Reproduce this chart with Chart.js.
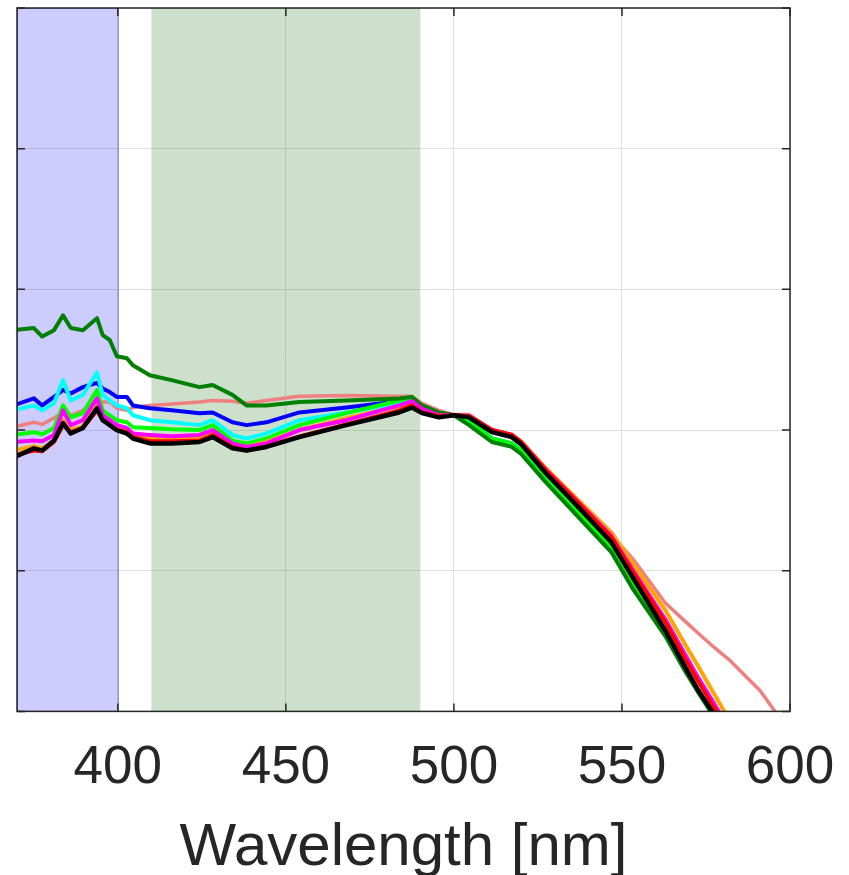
<!DOCTYPE html>
<html lang="en">
<head>
<meta charset="UTF-8">
<title>Spectra vs wavelength</title>
<script src="https://cdn.jsdelivr.net/npm/chart.js"></script>
<style>
    html, body { margin: 0; padding: 0; background: #fff; }
    #wrap { width: 849px; height: 875px; }
</style>
</head>
<body>
<div id="wrap"><canvas id="myChart" width="849" height="875"></canvas></div>
<script>
// Wavelength samples [nm]
const lam = [369, 375, 377.5, 381, 383.7, 386, 389.6, 393.8, 395.5, 397.6, 399.7, 402.7, 404.5, 409.5,
    416, 424.3, 428.2, 434.1, 438.3, 444.2, 454, 468, 483.7, 487.5, 490.5, 495.5, 500,
    504.5, 511.3, 517.2, 520, 527.3, 537.1, 546.9, 553.4, 562.9, 568.8, 572.7, 577.2, 582,
    586, 591, 596];

// Spectra (normalised units)
const sBlack = [0.361, 0.374, 0.371, 0.385, 0.410, 0.395, 0.403, 0.431, 0.414, 0.407, 0.400, 0.395, 0.388, 0.381,
    0.381, 0.383, 0.390, 0.374, 0.371, 0.376, 0.390, 0.407, 0.425, 0.432, 0.424, 0.418, 0.421,
    0.418, 0.397, 0.390, 0.380, 0.339, 0.290, 0.240, 0.189, 0.115, 0.063, 0.030, -0.003, -0.044];
const sRed = [0.364, 0.371, 0.370, 0.383, 0.407, 0.397, 0.403, 0.428, 0.414, 0.407, 0.400, 0.397, 0.390, 0.384,
    0.384, 0.385, 0.393, 0.376, 0.371, 0.377, 0.391, 0.408, 0.428, 0.435, 0.425, 0.420, 0.421,
    0.420, 0.400, 0.393, 0.383, 0.343, 0.296, 0.247, 0.197, 0.127, 0.075, 0.043, 0.007, -0.031];
const sMagenta = [0.383, 0.385, 0.384, 0.393, 0.428, 0.407, 0.414, 0.445, 0.421, 0.414, 0.407, 0.403, 0.395, 0.393,
    0.391, 0.393, 0.400, 0.381, 0.376, 0.381, 0.400, 0.414, 0.435, 0.441, 0.430, 0.421, 0.421,
    0.420, 0.400, 0.393, 0.383, 0.344, 0.297, 0.249, 0.200, 0.131, 0.081, 0.048, 0.013, -0.026];
const sOrange = [0.371, 0.377, 0.374, 0.385, 0.414, 0.400, 0.405, 0.435, 0.417, 0.410, 0.403, 0.398, 0.393, 0.388,
    0.387, 0.388, 0.395, 0.380, 0.376, 0.383, 0.400, 0.417, 0.434, 0.438, 0.428, 0.421, 0.421,
    0.420, 0.400, 0.393, 0.384, 0.346, 0.300, 0.254, 0.209, 0.144, 0.095, 0.064, 0.027, -0.013];
const sGreen = [0.542, 0.545, 0.533, 0.542, 0.563, 0.545, 0.542, 0.559, 0.535, 0.528, 0.505, 0.502, 0.492, 0.478,
    0.471, 0.461, 0.464, 0.450, 0.435, 0.435, 0.440, 0.442, 0.445, 0.447, 0.435, 0.425, 0.421,
    0.407, 0.383, 0.376, 0.366, 0.326, 0.276, 0.226, 0.173, 0.107, 0.057, 0.027, -0.006, -0.044];
const sLime = [0.393, 0.397, 0.394, 0.403, 0.435, 0.418, 0.424, 0.457, 0.428, 0.421, 0.414, 0.411, 0.404, 0.403,
    0.401, 0.400, 0.407, 0.385, 0.381, 0.388, 0.407, 0.424, 0.442, 0.447, 0.434, 0.424, 0.421,
    0.414, 0.388, 0.381, 0.371, 0.330, 0.282, 0.232, 0.180, 0.110, 0.060, 0.028, -0.006, -0.044];
const sCyan = [0.428, 0.435, 0.428, 0.438, 0.471, 0.442, 0.450, 0.482, 0.450, 0.442, 0.435, 0.431, 0.421, 0.414,
    0.411, 0.407, 0.414, 0.393, 0.388, 0.395, 0.414, 0.425, 0.438, 0.442, 0.431, 0.422, 0.421,
    0.414, 0.388, 0.381, 0.371, 0.330, 0.282, 0.232, 0.180, 0.110, 0.060, 0.028, -0.006, -0.044];
const sBlue = [0.435, 0.445, 0.435, 0.447, 0.457, 0.452, 0.461, 0.467, 0.459, 0.454, 0.447, 0.447, 0.435, 0.431,
    0.428, 0.424, 0.425, 0.411, 0.407, 0.411, 0.425, 0.432, 0.441, 0.444, 0.432, 0.424, 0.421,
    0.414, 0.388, 0.381, 0.371, 0.330, 0.282, 0.232, 0.180, 0.110, 0.060, 0.028, -0.006, -0.044];
const sSalmon = [0.404, 0.411, 0.408, 0.417, 0.425, 0.421, 0.428, 0.442, 0.440, 0.440, 0.431, 0.428, 0.432, 0.435,
    0.437, 0.440, 0.442, 0.441, 0.438, 0.442, 0.448, 0.449, 0.448, 0.448, 0.438, 0.428, 0.422,
    0.422, 0.400, 0.394, 0.384, 0.344, 0.297, 0.250, 0.216, 0.154, 0.128, 0.111, 0.092, 0.073,
    0.054, 0.030, -0.003];

// Shaded wavelength bands [nm]
const uvBand = [360, 400];
const blueBand = [410, 490];

const xTicks = [400, 450, 500, 550, 600];
const yTicks = [0, 0.2, 0.4, 0.6, 0.8, 1];

const FONT = "'Liberation Sans', Arial, Helvetica, sans-serif";
const AXIS = '#262626';

function puntos(vals) {
    const out = [];
    vals.forEach((v, i) => out.push({ x: lam[i], y: v }));
    return out;
}

function serie(vals, color, ancho) {
    return {
        data: puntos(vals),
        borderColor: color,
        backgroundColor: color,
        borderWidth: ancho,
        pointRadius: 0,
        tension: 0,
        borderJoinStyle: 'round',
        fill: false
    };
}

// bandas sombreadas detras de las curvas
const bandas = {
    id: 'bandas',
    beforeDatasetsDraw(chart) {
        const { ctx, chartArea: a, scales: { x } } = chart;
        ctx.save();
        ctx.beginPath();
        ctx.rect(a.left, a.top, a.right - a.left, a.bottom - a.top);
        ctx.clip();
        let x0 = x.getPixelForValue(uvBand[0]), x1 = x.getPixelForValue(uvBand[1]);
        ctx.fillStyle = 'rgba(0, 0, 255, 0.2)';
        ctx.fillRect(x0, a.top, x1 - x0, a.bottom - a.top);
        ctx.strokeStyle = 'rgba(30, 30, 170, 0.55)';
        ctx.lineWidth = 1;
        ctx.strokeRect(Math.max(x0, a.left) + 0.5, a.top, x1 - Math.max(x0, a.left), a.bottom - a.top);
        x0 = x.getPixelForValue(blueBand[0]);
        x1 = x.getPixelForValue(blueBand[1]);
        ctx.fillStyle = 'rgba(0, 100, 0, 0.2)';
        ctx.fillRect(x0, a.top, x1 - x0, a.bottom - a.top);
        ctx.restore();
    }
};

// marco tipo MATLAB con marcas hacia dentro
const marco = {
    id: 'marco',
    afterDraw(chart) {
        const { ctx, chartArea: a, scales: { x, y } } = chart;
        ctx.save();
        ctx.strokeStyle = AXIS;
        ctx.lineWidth = 1.5;
        ctx.strokeRect(a.left, a.top, a.right - a.left, a.bottom - a.top);
        ctx.beginPath();
        xTicks.forEach(v => {
            const px = x.getPixelForValue(v);
            ctx.moveTo(px, a.bottom); ctx.lineTo(px, a.bottom - 8);
            ctx.moveTo(px, a.top); ctx.lineTo(px, a.top + 8);
        });
        yTicks.forEach(v => {
            const py = y.getPixelForValue(v);
            ctx.moveTo(a.left, py); ctx.lineTo(a.left + 8, py);
            ctx.moveTo(a.right, py); ctx.lineTo(a.right - 8, py);
        });
        ctx.stroke();
        ctx.restore();
    }
};

const ctx = document.getElementById('myChart').getContext('2d');
new Chart(ctx, {
    type: 'line',
    data: {
        datasets: [
            serie(sBlack, '#000000', 4.5),
            serie(sRed, '#ff0000', 4),
            serie(sMagenta, '#ff00ff', 4),
            serie(sOrange, '#ffa500', 4),
            serie(sGreen, '#008000', 4),
            serie(sLime, '#00ff00', 4),
            serie(sCyan, '#00ffff', 4),
            serie(sBlue, '#0000ff', 4),
            serie(sSalmon, '#f08080', 3.5)
        ]
    },
    options: {
        responsive: false,
        animation: false,
        devicePixelRatio: 1,
        layout: { padding: { left: 17, right: 59, top: 8, bottom: 2 } },
        plugins: { legend: { display: false }, tooltip: { enabled: false } },
        scales: {
            x: {
                type: 'linear',
                min: 370,
                max: 600,
                afterBuildTicks: s => { s.ticks = xTicks.map(v => ({ value: v })); },
                afterFit: s => { s.paddingLeft = 0; s.paddingRight = 0; },
                grid: { color: '#dfdfdf', drawTicks: false, lineWidth: 1 },
                border: { display: false },
                ticks: {
                    color: AXIS,
                    font: { family: FONT, size: 53 },
                    padding: 25,
                    maxRotation: 0,
                    autoSkip: false
                },
                title: {
                    display: true,
                    text: 'Wavelength [nm]',
                    color: AXIS,
                    font: { family: FONT, size: 60 },
                    padding: { top: -13, bottom: -11 }
                }
            },
            y: {
                min: 0,
                max: 1,
                afterBuildTicks: s => { s.ticks = yTicks.map(v => ({ value: v })); },
                grid: { color: '#dfdfdf', drawTicks: false, lineWidth: 1 },
                border: { display: false },
                ticks: { display: false }
            }
        }
    },
    plugins: [bandas, marco]
});
</script>
</body>
</html>
